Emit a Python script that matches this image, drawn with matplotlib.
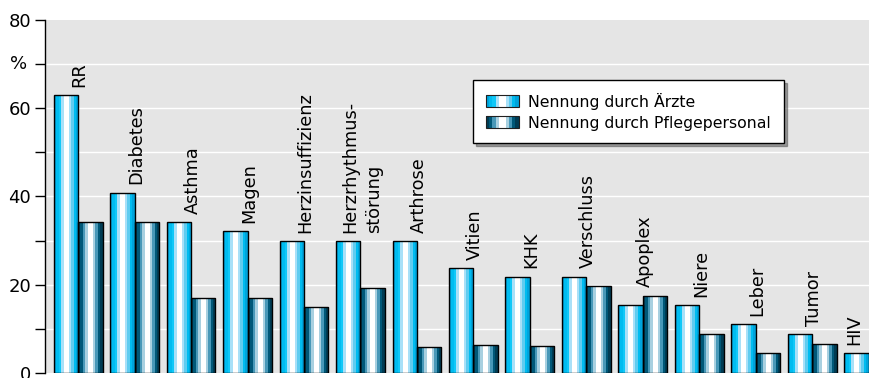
import numpy as np
import matplotlib
matplotlib.use("Agg")
import matplotlib.pyplot as plt
from matplotlib.colors import to_rgb
from matplotlib.patches import Rectangle
from matplotlib.legend_handler import HandlerBase
import matplotlib.transforms as mtransforms

categories = ['RR', 'Diabetes', 'Asthma', 'Magen', 'Herzinsuffizienz',
              'Herzrhythmus-\nstörung', 'Arthrose', 'Vitien', 'KHK',
              'Verschluss', 'Apoplex', 'Niere', 'Leber', 'Tumor', 'HIV']
aerzte = [63.0, 40.9, 34.2, 32.2, 29.9, 29.9, 29.9, 23.8, 21.8, 21.8,
          15.4, 15.4, 11.0, 8.8, 4.5]
pflege = [34.2, 34.2, 17.0, 17.0, 15.0, 19.3, 5.9, 6.3, 6.1, 19.8,
          17.5, 8.8, 4.6, 6.6, np.nan]
series_names = ['Nennung durch Ärzte', 'Nennung durch Pflegepersonal']
yticks = [0, 10, 20, 30, 40, 50, 60, 70, 80]
ylabels = ['0', '', '20', '', '40', '', '60', '', '80']

# cylinder-like stripes
stripes_a = ['#00a4dc', '#00bcf0', '#10c8f8', '#a8e0f8', '#ffffff',
             '#ffffff', '#a8e0f8', '#60ccf0', '#00bcf0', '#00a4dc']
stripes_p = ['#003c54', '#005878', '#4898b8', '#a8d0e0', '#ffffff',
             '#ffffff', '#a8d0e0', '#4898b8', '#005878', '#003c54']

plt.rcParams['font.family'] = ['DejaVu Sans']

fig = plt.figure(figsize=(8.7, 3.78), dpi=100)
ax = fig.add_axes([45/870, 5/378, 825/870, 353/378])
ax.set_facecolor('#e5e5e5')

x = np.arange(len(categories))
w = 0.433

for yv in yticks[1:-1]:
    ax.axhline(yv, color='white', lw=1.0, zorder=1)

def draw_bars(xpos, vals, stripes):
    arr = np.array([[to_rgb(c) for c in stripes]])
    bars = ax.bar(xpos, vals, w, align='edge', facecolor='none',
                  edgecolor='black', lw=1.0, zorder=3)
    for b, v in zip(bars, vals):
        if np.isnan(v):
            continue
        im = ax.imshow(arr, extent=[b.get_x(), b.get_x() + b.get_width(), 0, v],
                       aspect='auto', interpolation='nearest', zorder=2)
        im.set_clip_path(b)
    return bars

draw_bars(x - w, aerzte, stripes_a)
draw_bars(x, pflege, stripes_p)

for i, name in enumerate(categories):
    top = np.nanmax([aerzte[i], pflege[i]])
    xl = x[i] + 0.03
    if np.isnan(pflege[i]):
        xl = x[i] - w / 2 - 0.05
    ax.text(xl, top + 1.9, name, rotation=90, ha='center', va='bottom',
            fontsize=12.8, multialignment='left', linespacing=1.45)

ax.set_xlim(-0.585, 14.02)
ax.set_ylim(0, 80)
ax.set_xticks([])
ax.set_yticks(yticks)
ax.set_yticklabels(ylabels, fontsize=13)
ax.tick_params(axis='y', length=7, width=1, pad=3)
trans = mtransforms.blended_transform_factory(ax.transAxes, ax.transData)
ax.text(-0.043, 70, '%', transform=trans, ha='left', va='center', fontsize=13)

for s in ['top', 'right', 'bottom']:
    ax.spines[s].set_visible(False)
ax.spines['left'].set_linewidth(1.0)


class StripeHandler(HandlerBase):
    def __init__(self, colors):
        super().__init__()
        self.colors = colors

    def create_artists(self, legend, orig_handle, xdescent, ydescent,
                       width, height, fontsize, trans):
        n = len(self.colors)
        arts = []
        for k, c in enumerate(self.colors):
            arts.append(Rectangle((-xdescent + k * width / n, -ydescent),
                                  width / n, height, facecolor=c,
                                  edgecolor='none', transform=trans))
        arts.append(Rectangle((-xdescent, -ydescent), width, height,
                              fill=False, edgecolor='#202020', lw=0.8,
                              transform=trans))
        return arts


ha = Rectangle((0, 0), 1, 1)
hp = Rectangle((0, 0), 1, 1)
leg = ax.legend([ha, hp], series_names, loc='upper left',
                bbox_to_anchor=(0.519, 0.830), borderaxespad=0,
                fontsize=11.3, frameon=True, fancybox=False, shadow=True,
                handlelength=2.1, handleheight=0.85, handletextpad=0.62,
                borderpad=0.8, labelspacing=0.38,
                handler_map={ha: StripeHandler(stripes_a),
                             hp: StripeHandler(stripes_p)})
leg.get_frame().set_edgecolor('black')
leg.get_frame().set_linewidth(1.0)
leg.set_zorder(5)

fig.savefig('out.png', dpi=100)
